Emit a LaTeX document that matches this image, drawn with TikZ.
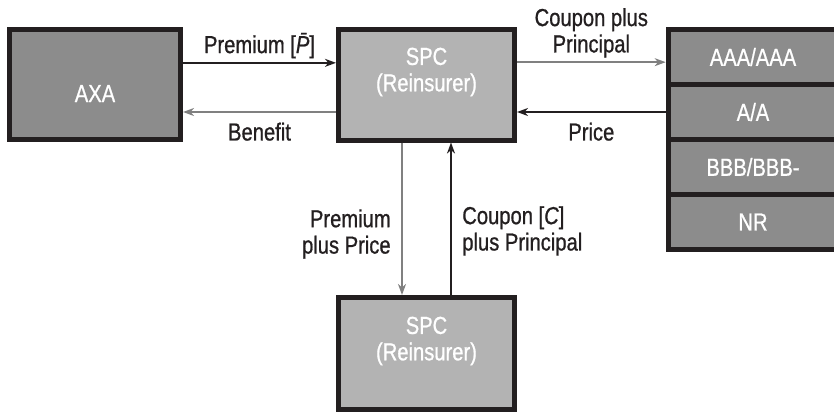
\documentclass[tikz,border=0pt]{standalone}
\usepackage{fontspec}
\setmainfont{Liberation Sans}[FakeStretch=0.82, FakeBold=0.8]
\usetikzlibrary{arrows.meta}
\definecolor{boxdark}{HTML}{8C8C8C}
\definecolor{boxlight}{HTML}{B3B3B3}
\definecolor{inkblack}{HTML}{231F20}
\definecolor{arrgray}{HTML}{808080}

\begin{document}
\begin{tikzpicture}[x=0.03cm, y=-0.03cm,
    every node/.style={font=\fontsize{21}{22.5}\selectfont, text=inkblack},
    party/.style={draw=inkblack, line width=0.15cm, fill=boxdark, text=white, align=center},
    spcbox/.style={party, fill=boxlight, minimum width=5.28cm, text depth=0.9cm},
    rating/.style={party, minimum width=5.09cm, minimum height=1.65cm},
    flowblack/.style={-{Stealth[length=0.33cm, width=0.24cm, inset=0.1cm]}, line width=0.045cm, inkblack},
    flowgray/.style={flowblack, arrgray}]
    \useasboundingbox (0,0) rectangle (834,412);

    % the parties
    \node[party, minimum width=5.13cm, minimum height=3.3cm, text height=1.05cm] (axa) at (95,84.5) {AXA};
    \node[spcbox, minimum height=3.33cm] (spc) at (426.5,84.5) {SPC\\(Reinsurer)};
    \node[spcbox, minimum height=3.36cm] (spcb) at (426.5,353.5) {SPC\\(Reinsurer)};

    % tranches of the notes
    \node[rating] (aaa) at (753,57) {AAA/AAA};
    \node[rating] (aa) at (753,112) {A/A};
    \node[rating] (bbb) at (753,167) {BBB/BBB-};
    \node[rating] (nr) at (753,222) {NR};

    % flows between AXA and the SPC
    \draw[flowblack] ([yshift=0.65cm]axa.east) -- ([yshift=0.65cm]axa.east -| spc.west) node[midway, above] {Premium [{\itshape\=P}]};
    \draw[flowgray] ([yshift=-0.825cm]spc.west) -- ([yshift=-0.825cm]spc.west -| axa.east) node[midway, below, yshift=-0.18cm] {Benefit};

    % flows between the SPC and the notes
    \draw[flowgray] ([yshift=0.67cm]spc.east) -- ([yshift=0.67cm]spc.east -| aaa.west) node[midway, above, align=center] {Coupon plus\\Principal};
    \draw[flowblack] (aa.west) -- (aa.west -| spc.east) node[midway, below, yshift=-0.18cm] {Price};

    % flows between the two SPCs
    \draw[flowgray] ([xshift=-0.735cm]spc.south) -- ([xshift=-0.735cm]spc.south |- spcb.north) node[pos=0.6, left, align=right, xshift=-0.2cm] {Premium\\plus Price};
    \draw[flowblack] ([xshift=0.735cm]spcb.north) -- ([xshift=0.735cm]spcb.north |- spc.south) node[pos=0.42, right, align=left, xshift=0.2cm] {Coupon [{\itshape C}]\\plus Principal};
\end{tikzpicture}
\end{document}
